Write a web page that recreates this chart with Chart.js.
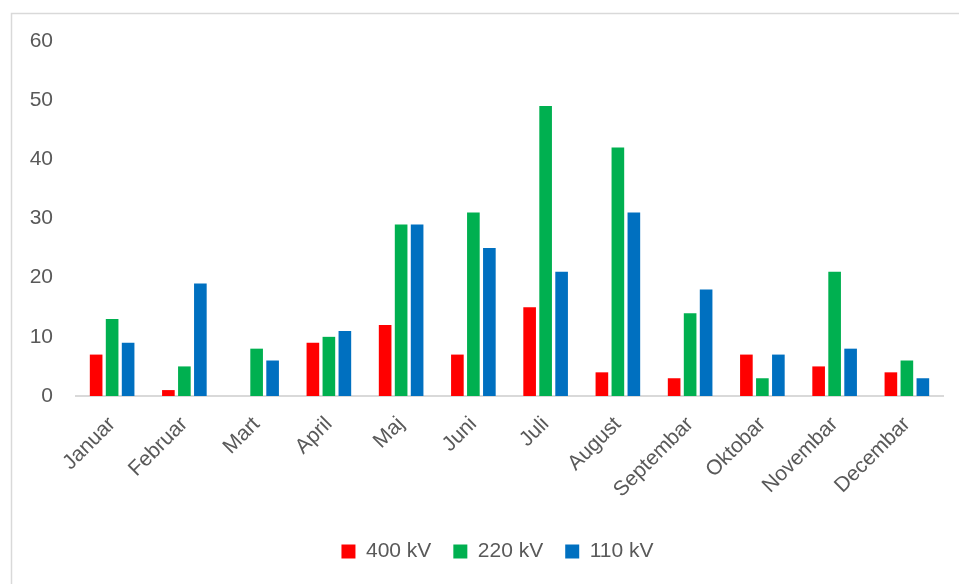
<!DOCTYPE html>
<html>
<head>
<meta charset="utf-8">
<script src="https://cdn.jsdelivr.net/npm/chart.js@4/dist/chart.umd.min.js"></script>
<style>
  html, body { margin: 0; padding: 0; background: #ffffff; }
  #wrap { position: relative; width: 959px; height: 584px; }
</style>
</head>
<body>
<div id="wrap"><canvas id="chart" width="959" height="584"></canvas></div>
<script>
// Monthly counts per voltage level
const months = ['Januar', 'Februar', 'Mart', 'April', 'Maj', 'Juni', 'Juli', 'August', 'Septembar', 'Oktobar', 'Novembar', 'Decembar'];
const kv400 = [7, 1, 0, 9, 12, 7, 15, 4, 3, 7, 5, 4];
const kv220 = [13, 5, 8, 10, 29, 31, 49, 42, 14, 3, 21, 6];
const kv110 = [9, 19, 6, 11, 29, 25, 21, 31, 18, 7, 8, 3];
const yTicks = [0, 10, 20, 30, 40, 50, 60];

const textColor = '#595959';
const fontFamily = '"Liberation Sans", Arial, sans-serif';

// Light frame around the whole chart (left and top edges visible)
const framePlugin = {
  id: 'frame',
  beforeDraw(chart) {
    const ctx = chart.ctx;
    ctx.save();
    ctx.fillStyle = '#ffffff';
    ctx.fillRect(0, 0, chart.width, chart.height);
    ctx.strokeStyle = '#d9d9d9';
    ctx.lineWidth = 1.5;
    ctx.beginPath();
    ctx.moveTo(11.5, chart.height + 2);
    ctx.lineTo(11.5, 13.5);
    ctx.lineTo(chart.width + 2, 13.5);
    ctx.stroke();
    ctx.restore();
  }
};

// Center the legend under the plot rather than under the full canvas
const legendShift = {
  id: 'legendShift',
  afterLayout(chart) {
    const lg = chart.legend;
    if (!lg) return;
    const dx = (chart.chartArea.left + chart.chartArea.right) / 2 - (lg.left + lg.right) / 2 - 12;
    lg.left += dx;
    lg.right += dx;
  }
};

new Chart(document.getElementById('chart'), {
  type: 'bar',
  data: {
    labels: months,
    datasets: [
      { label: '400 kV', data: kv400, backgroundColor: '#ff0000' },
      { label: '220 kV', data: kv220, backgroundColor: '#00b050' },
      { label: '110 kV', data: kv110, backgroundColor: '#0070c0' }
    ]
  },
  options: {
    responsive: false,
    animation: false,
    devicePixelRatio: 1,
    layout: { padding: { left: 0, top: 41, right: 16, bottom: 12 } },
    datasets: {
      bar: { categoryPercentage: 0.664, barPercentage: 0.79 }
    },
    scales: {
      x: {
        grid: { display: false, drawTicks: false },
        border: { display: true, color: '#d9d9d9', width: 2 },
        ticks: {
          color: textColor,
          font: { family: fontFamily, size: 21 },
          minRotation: 45,
          maxRotation: 45,
          padding: 16,
          autoSkip: false
        },
        afterFit(scale) { scale.height = 123; }
      },
      y: {
        min: 0,
        max: 60,
        afterBuildTicks(scale) { scale.ticks = yTicks.map(v => ({ value: v })); },
        grid: { display: false, drawTicks: false },
        border: { display: false },
        ticks: {
          color: textColor,
          font: { family: fontFamily, size: 21 },
          padding: 23
        },
        afterFit(scale) { scale.width = 76; }
      }
    },
    plugins: {
      legend: {
        position: 'bottom',
        labels: {
          color: textColor,
          font: { family: fontFamily, size: 21 },
          boxWidth: 14,
          boxHeight: 14,
          padding: 22
        }
      },
      tooltip: { enabled: false }
    }
  },
  plugins: [framePlugin, legendShift]
});
</script>
</body>
</html>
